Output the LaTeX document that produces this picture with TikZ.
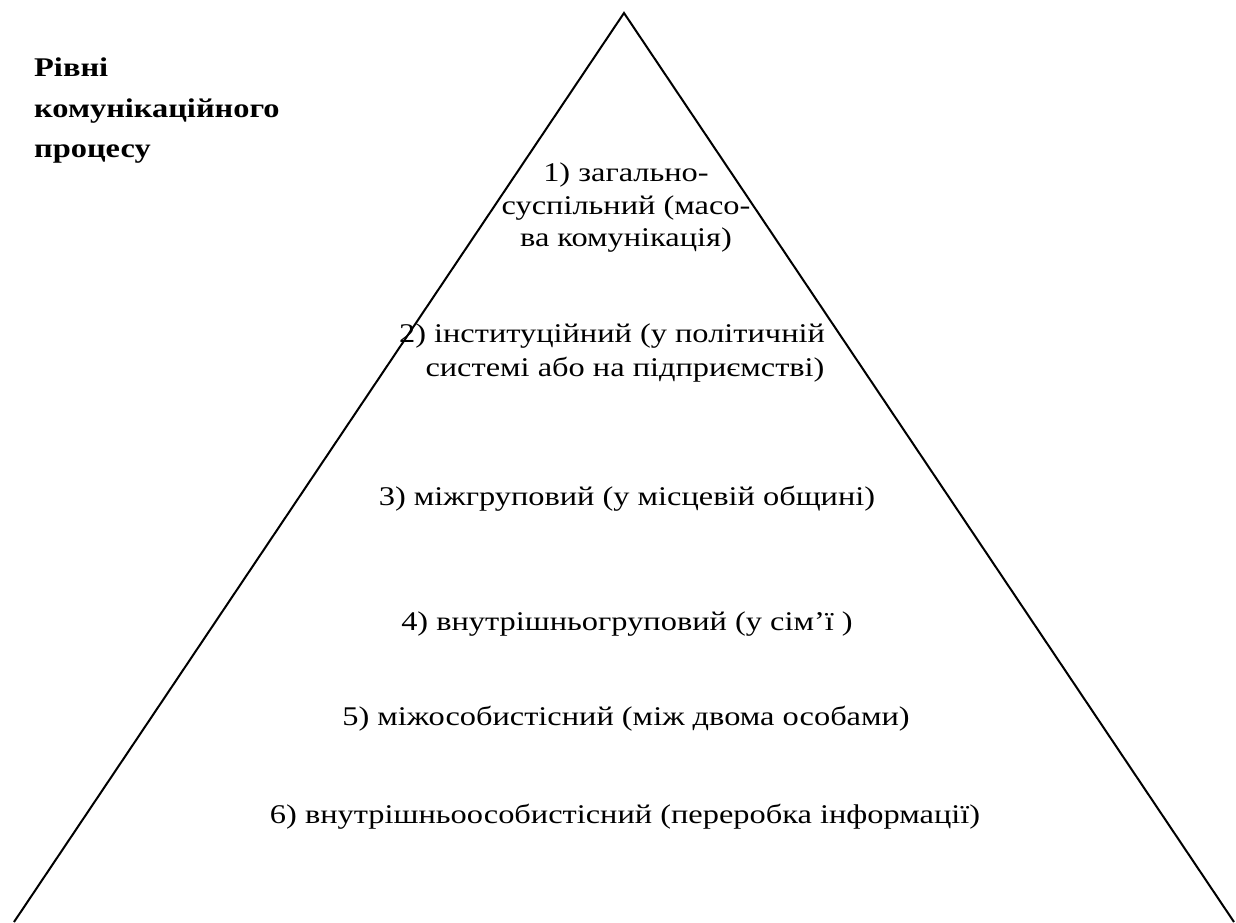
\documentclass[tikz,border=0pt]{standalone}
\usepackage{fontspec}
\setmainfont[FakeStretch=1.2]{Liberation Serif}
\begin{document}
\begin{tikzpicture}[x=1pt,y=1pt,
  side/.style={line width=2pt,black},
  lbl/.style={font=\fontsize{27}{33}\selectfont,inner sep=0pt,anchor=base},
  ttl/.style={font=\fontsize{27}{33}\selectfont\bfseries,inner sep=0pt,anchor=base west}]
\useasboundingbox (0,0) rectangle (1236,922);
\coordinate (apex) at (624,909);
\coordinate (bl) at (14,0);
\coordinate (br) at (1234,0);
\draw[side] (bl) -- (apex) -- (br);
\node[ttl] (t1) at (34,845) {Рівні};
\node[ttl] (t2) at (34,804) {комунікаційного};
\node[ttl] (t3) at (34,764) {процесу};
\node[lbl] (a1) at (626,740) {1) загально-};
\node[lbl] (a2) at (626,707) {суспільний (масо-};
\node[lbl] (a3) at (626,675) {ва комунікація)};
\node[lbl] (b1) at (612,579) {2) інституційний (у політичній};
\node[lbl] (b2) at (625,545) {системі або на підприємстві)};
\node[lbl] (c1) at (627,417) {3) міжгруповий (у місцевій общині)};
\node[lbl] (d1) at (627,292) {4) внутрішньогруповий (у сім’ї )};
\node[lbl] (e1) at (626,197) {5) міжособистісний (між двома особами)};
\node[lbl] (f1) at (625,99) {6) внутрішньоособистісний (переробка інформації)};
\end{tikzpicture}
\end{document}
